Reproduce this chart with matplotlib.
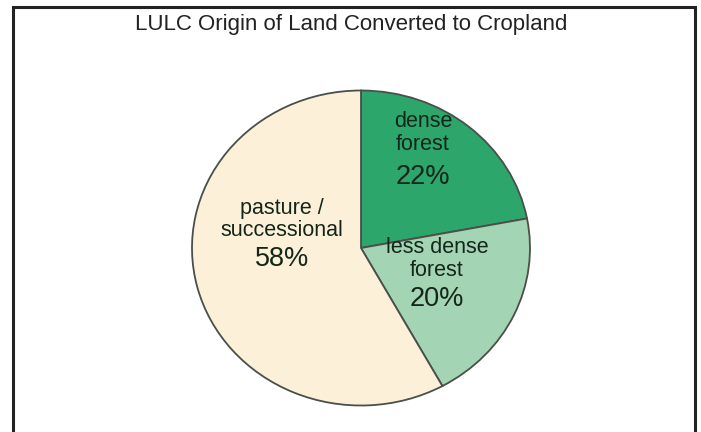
import matplotlib.pyplot as plt
from matplotlib.patches import Rectangle

plt.rcParams['font.family'] = ['Liberation Sans', 'DejaVu Sans']

categories = ['dense\nforest', 'less dense\nforest', 'pasture /\nsuccessional']
shares = [22, 20, 58]
colors = ['#2ca66a', '#a3d4b3', '#fdf0d9']
title = 'LULC Origin of Land Converted to Cropland'

fig = plt.figure(figsize=(7.01, 4.32), dpi=100)

# frame around the whole chart (bottom edge is cut off in the original)
fig.patches.append(Rectangle((13 / 701, -0.05), 682 / 701, 1.05 - 7 / 432,
                             transform=fig.transFigure, fill=False,
                             edgecolor='#222222', linewidth=2.2))

fig.text(0.501, 0.944, title, ha='center', va='center', fontsize=16, color='#222222')

# pie is slightly wider than tall in the reference
ax = fig.add_axes([192 / 701, 26.5 / 432, 338 / 701, 315 / 432])
wedges, _ = ax.pie(shares, colors=colors, startangle=90, counterclock=False,
                   wedgeprops=dict(edgecolor='#4a4f4a', linewidth=1.3))
ax.set_aspect('auto')
ax.set_xlim(-1, 1)
ax.set_ylim(-1, 1)

# label positions (data coords inside the unit pie)
label_pos = [(0.367, 0.73), (0.45, -0.07), (-0.467, 0.18)]
pct_pos = [(0.367, 0.45), (0.45, -0.325), (-0.467, -0.07)]
txt = '#14261b'
for cat, val, lp, pp in zip(categories, shares, label_pos, pct_pos):
    ax.text(lp[0], lp[1], cat, ha='center', va='center', fontsize=15.5,
            color=txt, linespacing=1.08)
    ax.text(pp[0], pp[1], f'{val}%', ha='center', va='center', fontsize=19.5, color=txt)

fig.savefig('out.png', dpi=100)
